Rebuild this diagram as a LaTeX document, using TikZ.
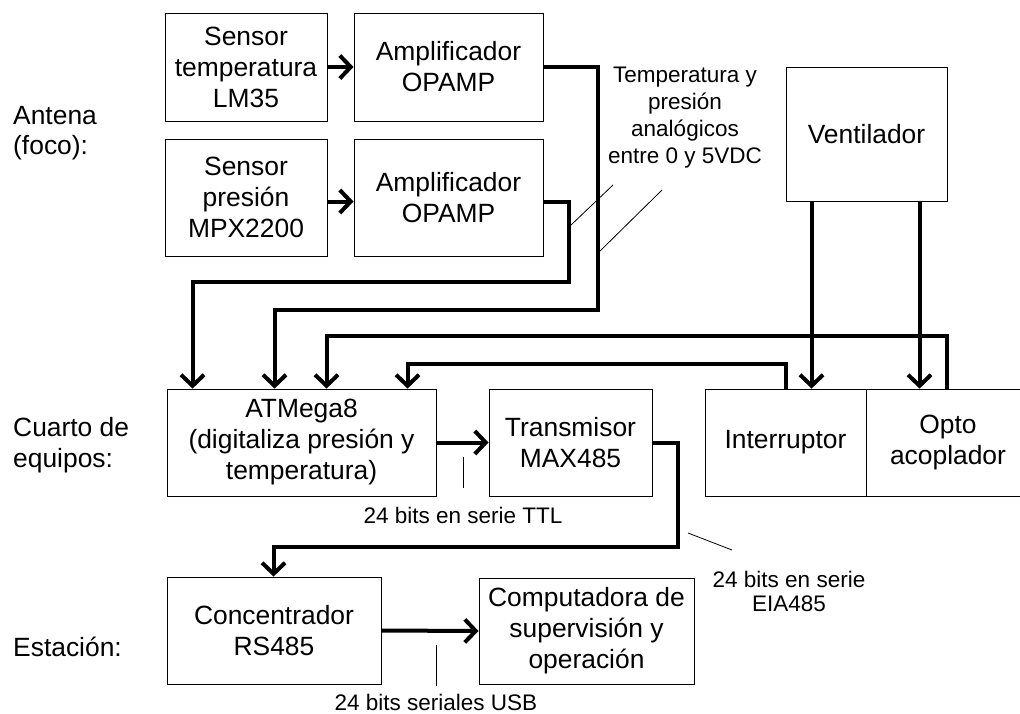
\documentclass[tikz,border=0pt]{standalone}
\usepackage{fontspec}
\setmainfont{Liberation Sans}
\usetikzlibrary{arrows.meta,calc}
\newcommand\bigtxt{\fontsize{26.4}{31}\selectfont}
\newcommand\smalltxt{\fontsize{22.5}{27}\selectfont}
\begin{document}
\begin{tikzpicture}[x=1pt,y=-1pt,
  blk/.style={draw=black,line width=0.9pt,inner sep=0pt,align=center,font=\bigtxt},
  bus/.style={line width=4pt},
  feed/.style={bus,-{Straight Barb[length=11pt,width=23pt]}},
  lead/.style={line width=0.8pt},
  lbl/.style={inner sep=0pt,align=center,font=\smalltxt},
  zone/.style={inner sep=0pt,align=left,anchor=west,font=\fontsize{26.4}{30.5}\selectfont}]
\useasboundingbox (0,0) rectangle (1020,713);
\fill[white] (0,0) rectangle (1020,713);
\clip (0,0) rectangle (1020,713);

% zone titles
\node[zone] (zA) at (13,133) {Antena\\(foco):};
\node[zone] (zC) at (13,445) {Cuarto de\\equipos:};
\node[zone] (zE) at (13,647) {Estación:};

% blocks at the antenna
\node[blk,minimum width=162pt,minimum height=108pt] (st) at (246,67) {Sensor\\temperatura\\LM35};
\node[blk,minimum width=189pt,minimum height=108pt] (a1) at (448.5,67) {Amplificador\\OPAMP};
\node[blk,minimum width=162pt,minimum height=117pt] (sp) at (246,197.5) {Sensor\\presión\\MPX2200};
\node[blk,minimum width=189pt,minimum height=117pt] (a2) at (448.5,197.5) {Amplificador\\OPAMP};
\node[blk,minimum width=161pt,minimum height=134pt] (vent) at (866.5,134) {Ventilador};

% equipment room
\node[blk,minimum width=269pt,minimum height=107pt] (atm) at (301.5,442.5) {ATMega8\\(digitaliza presión y\\temperatura)};
\node[blk,minimum width=163pt,minimum height=107pt] (tx) at (570.5,442.5) {Transmisor\\MAX485};
\node[blk,minimum width=161pt,minimum height=107pt] (intr) at (785.5,442.5) {Interruptor};
\node[blk,minimum width=164pt,minimum height=107pt] (opto) at (948,442.5) {Opto\\acoplador};

% station
\node[blk,minimum width=214pt,minimum height=107pt] (conc) at (274,630.5) {Concentrador\\RS485};
\node[blk,minimum width=215pt,minimum height=106pt] (comp) at (586.5,631) {Computadora de\\supervisión y\\operación};

% signal paths
\draw[feed] (st.east) -- (a1.west);
\draw[feed] ($(sp.east)+(0,4)$) -- ($(a2.west)+(0,4)$);
\draw[feed] (a1.east) -| (598,310) -| ($(atm.north west)+(108,0)$);
\draw[feed] ($(a2.east)+(0,4)$) -| (569,282) -| ($(atm.north west)+(26,0)$);
\draw[feed] ($(opto.north west)+(81,0)$) |- (600,336) -| ($(atm.north west)+(160,0)$);
\draw[feed] ($(intr.north west)+(81,0)$) |- (600,364) -| ($(atm.north west)+(241,0)$);
\draw[feed] ($(vent.south west)+(26,0)$) -- ($(intr.north west)+(107,0)$);
\draw[feed] ($(vent.south west)+(134,0)$) -- ($(opto.north west)+(54,0)$);
\draw[feed] (atm.east) -- (tx.west);
\draw[feed] (tx.east) -| (678,547) -| ($(conc.north west)+(107,0)$);
\draw[feed] (conc.east) -- (comp.west);

% link annotations
\node[lbl] (tA) at (685,118) {Temperatura y\\presión\\analógicos\\entre 0 y 5VDC};
\draw[lead] (571,225) -- (613,185);
\draw[lead] (599,252) -- (662,190);
\node[lbl] (tT) at (463,515) {24 bits en serie TTL};
\draw[lead] (463,457) -- (463,488);
\node[lbl,font=\fontsize{22.5}{24}\selectfont] (tE) at (789,591) {24 bits en serie\\EIA485};
\draw[lead] (688,533) -- (732,550);
\node[lbl] (tU) at (436,702) {24 bits seriales USB};
\draw[lead] (436,645) -- (436,686);
\end{tikzpicture}
\end{document}
